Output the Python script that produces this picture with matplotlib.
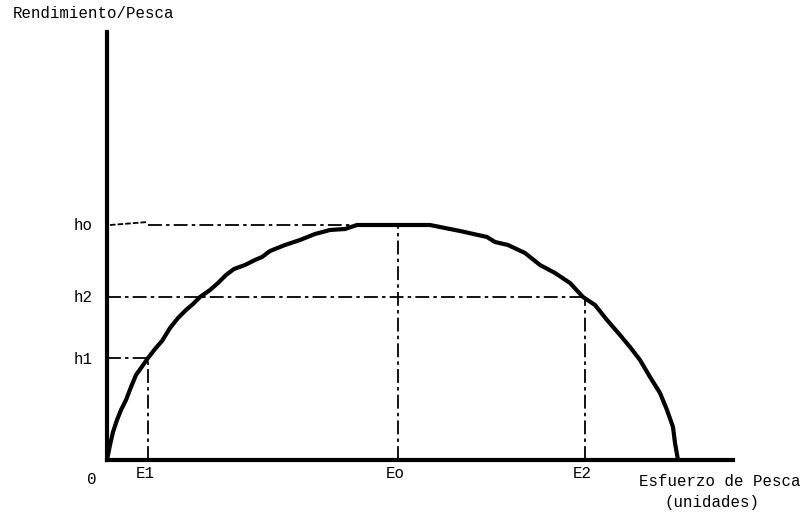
import matplotlib
matplotlib.use("Agg")
import matplotlib.pyplot as plt

# curva rendimiento vs esfuerzo
esfuerzo = [0, 0.3, 0.6, 1.0, 1.4, 1.9, 2.4, 2.9, 3.4, 4.1, 4.8, 5.5, 6.3, 7.1, 7.9,
            8.6, 9.3, 10.3, 11.1, 11.9, 12.7, 13.8, 14.8, 15.5, 16.3, 17.8, 19.3,
            20.8, 22.3, 23.8, 25.0, 32.3, 35.3, 38.0, 38.8, 40.1, 41.8, 43.3, 44.8,
            46.3, 47.6, 48.8, 50.0, 51.3, 52.3, 53.3, 54.3, 55.3, 56.0, 56.6, 56.8, 57.1]
rendimiento = [0, 1.5, 2.8, 4.0, 5.0, 6.0, 7.3, 8.5, 9.2, 10.2, 11.1, 11.9, 13.2, 14.2, 15.0,
               15.6, 16.3, 17.0, 17.7, 18.5, 19.1, 19.5, 20.0, 20.3, 20.9, 21.5, 22.0,
               22.6, 23.0, 23.1, 23.5, 23.5, 22.9, 22.3, 21.8, 21.5, 20.7, 19.5, 18.7,
               17.7, 16.3, 15.5, 14.0, 12.5, 11.3, 10.0, 8.3, 6.7, 5.0, 3.3, 1.7, 0]

E_vals = [4.1, 29.1, 47.8]      # E1, Eo, E2
E_names = ['E1', 'Eo', 'E2']
h_vals = [10.2, 16.3, 23.5]     # h1, h2, ho
h_names = ['h1', 'h2', 'ho']

plt.rcParams['font.family'] = ['Liberation Mono', 'DejaVu Sans Mono']
plt.rcParams['lines.scale_dashes'] = False

fig = plt.figure(figsize=(8.07, 5.14), dpi=100)
ax = fig.add_axes([107/807, 54/514, 626/807, 428/514])
ax.set_xlim(0, 62.6)
ax.set_ylim(0, 42.8)
for s in ['top', 'right']:
    ax.spines[s].set_visible(False)
for s in ['left', 'bottom']:
    ax.spines[s].set_linewidth(3)
    ax.spines[s].set_capstyle('projecting')
ax.set_xticks([])
ax.set_yticks([])

dashdot = (0, (10, 3, 2.5, 3))
lw_ref = 1.3

# lineas de referencia
ax.plot([0, E_vals[0]], [h_vals[0], h_vals[0]], color='black', lw=lw_ref, linestyle=dashdot)
ax.plot([E_vals[0], E_vals[0]], [0, h_vals[0]], color='black', lw=lw_ref, linestyle=dashdot)
ax.plot([0, E_vals[2]], [h_vals[1], h_vals[1]], color='black', lw=lw_ref, linestyle=dashdot)
ax.plot([E_vals[2], E_vals[2]], [0, h_vals[1]], color='black', lw=lw_ref, linestyle=dashdot)
ax.plot([E_vals[0], E_vals[1]], [h_vals[2], h_vals[2]], color='black', lw=lw_ref, linestyle=dashdot)
ax.plot([E_vals[1], E_vals[1]], [0, h_vals[2]], color='black', lw=lw_ref, linestyle=dashdot)
# tramo a mano al inicio de ho
ax.plot([0.3, E_vals[0]], [h_vals[2], h_vals[2] + 0.3], color='black', lw=lw_ref,
        linestyle=(0, (4, 1.5)))

ax.plot(esfuerzo, rendimiento, color='black', lw=3, solid_joinstyle='round',
        solid_capstyle='round')

fs = 11.3
for e, n in zip(E_vals, E_names):
    ax.text(e - 0.3, -1.4, n, ha='center', va='center', fontsize=fs, clip_on=False)
for h, n in zip(h_vals, h_names):
    ax.text(-2.4, h - 0.1, n, ha='center', va='center', fontsize=fs, clip_on=False)
ax.text(-1.5, -1.9, '0', ha='center', va='center', fontsize=fs, clip_on=False)
ax.text(-1.3, 44.6, 'Rendimiento/Pesca', ha='center', va='center', fontsize=fs, clip_on=False)
ax.text(61.3, -2.2, 'Esfuerzo de Pesca', ha='center', va='center', fontsize=fs, clip_on=False)
ax.text(60.5, -4.2, '(unidades)', ha='center', va='center', fontsize=fs, clip_on=False)

fig.savefig('out.png', dpi=100)
